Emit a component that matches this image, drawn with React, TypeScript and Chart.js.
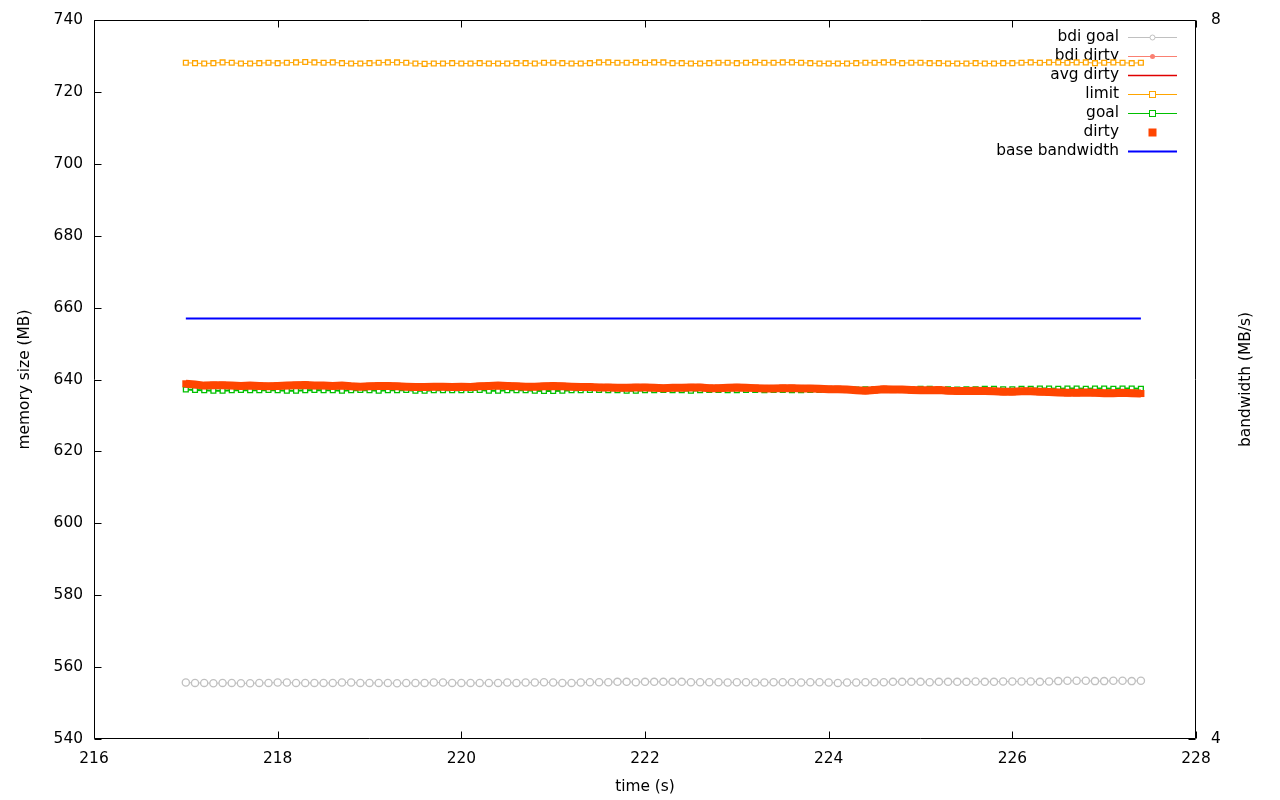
import React, { useEffect, useRef } from "react";
import { Chart, registerables } from "chart.js";

Chart.register(...registerables);

const times = [
  217.0, 217.1, 217.2, 217.3, 217.4, 217.5, 217.6, 217.7, 217.8, 217.9,
  218.0, 218.1, 218.2, 218.3, 218.4, 218.5, 218.6, 218.7, 218.8, 218.9,
  219.0, 219.1, 219.2, 219.3, 219.4, 219.5, 219.6, 219.7, 219.8, 219.9,
  220.0, 220.1, 220.2, 220.3, 220.4, 220.5, 220.6, 220.7, 220.8, 220.9,
  221.0, 221.1, 221.2, 221.3, 221.4, 221.5, 221.6, 221.7, 221.8, 221.9,
  222.0, 222.1, 222.2, 222.3, 222.4, 222.5, 222.6, 222.7, 222.8, 222.9,
  223.0, 223.1, 223.2, 223.3, 223.4, 223.5, 223.6, 223.7, 223.8, 223.9,
  224.0, 224.1, 224.2, 224.3, 224.4, 224.5, 224.6, 224.7, 224.8, 224.9,
  225.0, 225.1, 225.2, 225.3, 225.4, 225.5, 225.6, 225.7, 225.8, 225.9,
  226.0, 226.1, 226.2, 226.3, 226.4, 226.5, 226.6, 226.7, 226.8, 226.9,
  227.0, 227.1, 227.2, 227.3, 227.4,
];

const bdiGoal = [
  555.7, 555.6, 555.6, 555.5, 555.6, 555.6, 555.5, 555.5, 555.6, 555.6,
  555.7, 555.7, 555.6, 555.6, 555.6, 555.6, 555.6, 555.7, 555.7, 555.6,
  555.6, 555.6, 555.6, 555.5, 555.6, 555.6, 555.6, 555.7, 555.7, 555.6,
  555.6, 555.6, 555.6, 555.6, 555.6, 555.7, 555.6, 555.7, 555.7, 555.8,
  555.7, 555.6, 555.6, 555.7, 555.8, 555.8, 555.8, 555.9, 555.9, 555.8,
  555.9, 555.9, 555.9, 555.9, 555.9, 555.8, 555.8, 555.8, 555.8, 555.7,
  555.8, 555.8, 555.7, 555.7, 555.8, 555.8, 555.8, 555.7, 555.8, 555.8,
  555.7, 555.6, 555.7, 555.7, 555.8, 555.8, 555.8, 555.9, 555.9, 555.9,
  555.9, 555.8, 555.9, 555.9, 555.9, 555.9, 556.0, 555.9, 555.9, 556.0,
  556.0, 556.0, 556.0, 555.9, 556.0, 556.1, 556.2, 556.2, 556.2, 556.1,
  556.1, 556.2, 556.2, 556.1, 556.2,
];

const bdiDirty: number[] = [];
const avgDirty: number[] = [];

const limit = [
  728.1, 728.0, 727.9, 728.0, 728.2, 728.1, 727.9, 727.9, 728.0, 728.1,
  728.0, 728.1, 728.2, 728.3, 728.2, 728.1, 728.2, 728.0, 727.9, 727.9,
  728.0, 728.1, 728.2, 728.2, 728.1, 727.9, 727.8, 727.9, 727.9, 728.0,
  727.9, 727.9, 728.0, 727.9, 727.9, 727.9, 728.0, 728.0, 727.9, 728.1,
  728.1, 728.0, 727.9, 727.9, 728.0, 728.2, 728.2, 728.1, 728.1, 728.2,
  728.1, 728.2, 728.2, 728.0, 728.0, 727.9, 727.9, 728.0, 728.1, 728.1,
  728.0, 728.1, 728.2, 728.1, 728.1, 728.2, 728.2, 728.1, 728.0, 727.9,
  727.9, 727.9, 727.9, 728.0, 728.1, 728.1, 728.2, 728.2, 728.0, 728.1,
  728.1, 728.0, 728.0, 727.9, 727.9, 727.9, 728.0, 727.9, 727.9, 728.0,
  728.0, 728.1, 728.2, 728.1, 728.2, 728.2, 728.1, 728.2, 728.2, 728.0,
  728.1, 728.2, 728.1, 728.0, 728.1,
];

const goal = [
  637.2, 637.1, 637.0, 636.9, 636.9, 637.0, 637.1, 637.0, 637.0, 637.1,
  637.0, 636.9, 636.9, 637.0, 637.1, 637.0, 637.0, 636.9, 637.0, 637.1,
  637.0, 636.9, 637.0, 637.0, 637.1, 636.9, 636.9, 637.0, 637.0, 637.0,
  637.0, 637.1, 637.1, 636.9, 636.9, 637.0, 637.0, 637.0, 636.9, 636.8,
  636.8, 636.9, 637.0, 637.0, 637.1, 637.1, 637.0, 637.0, 636.9, 636.9,
  637.0, 637.0, 637.1, 637.0, 637.0, 636.9, 637.0, 637.1, 637.1, 637.0,
  637.0, 637.1, 637.1, 637.0, 637.1, 637.1, 637.0, 637.0, 637.1, 637.1,
  637.2, 637.2, 637.1, 637.2, 637.3, 637.3, 637.2, 637.3, 637.3, 637.3,
  637.4, 637.4, 637.3, 637.3, 637.2, 637.3, 637.3, 637.4, 637.4, 637.3,
  637.3, 637.4, 637.4, 637.5, 637.5, 637.4, 637.5, 637.5, 637.4, 637.5,
  637.5, 637.4, 637.5, 637.5, 637.4,
];

const dirty = [
  638.8, 638.6, 638.3, 638.4, 638.4, 638.3, 638.2, 638.3, 638.2, 638.1,
  638.2, 638.3, 638.4, 638.5, 638.3, 638.3, 638.2, 638.3, 638.1, 638.0,
  638.1, 638.2, 638.2, 638.1, 638.0, 637.9, 637.9, 638.0, 638.0, 637.9,
  638.0, 637.9, 638.1, 638.2, 638.3, 638.2, 638.1, 638.0, 638.0, 638.1,
  638.2, 638.1, 638.0, 637.9, 637.9, 637.8, 637.8, 637.7, 637.7, 637.8,
  637.8, 637.7, 637.6, 637.7, 637.7, 637.8, 637.8, 637.6, 637.6, 637.7,
  637.8, 637.7, 637.6, 637.5, 637.5, 637.6, 637.6, 637.5, 637.5, 637.4,
  637.3, 637.3, 637.2, 637.0, 636.9, 637.1, 637.3, 637.2, 637.2, 637.1,
  637.0, 637.0, 637.1, 636.9, 636.8, 636.8, 636.9, 636.8, 636.7, 636.6,
  636.6, 636.7, 636.7, 636.6, 636.5, 636.4, 636.3, 636.3, 636.4, 636.3,
  636.2, 636.2, 636.3, 636.2, 636.1,
];

const baseBandwidth = [
  6.34, 6.34, 6.34, 6.34, 6.34, 6.34, 6.34, 6.34, 6.34, 6.34,
  6.34, 6.34, 6.34, 6.34, 6.34, 6.34, 6.34, 6.34, 6.34, 6.34,
  6.34, 6.34, 6.34, 6.34, 6.34, 6.34, 6.34, 6.34, 6.34, 6.34,
  6.34, 6.34, 6.34, 6.34, 6.34, 6.34, 6.34, 6.34, 6.34, 6.34,
  6.34, 6.34, 6.34, 6.34, 6.34, 6.34, 6.34, 6.34, 6.34, 6.34,
  6.34, 6.34, 6.34, 6.34, 6.34, 6.34, 6.34, 6.34, 6.34, 6.34,
  6.34, 6.34, 6.34, 6.34, 6.34, 6.34, 6.34, 6.34, 6.34, 6.34,
  6.34, 6.34, 6.34, 6.34, 6.34, 6.34, 6.34, 6.34, 6.34, 6.34,
  6.34, 6.34, 6.34, 6.34, 6.34, 6.34, 6.34, 6.34, 6.34, 6.34,
  6.34, 6.34, 6.34, 6.34, 6.34, 6.34, 6.34, 6.34, 6.34, 6.34,
  6.34, 6.34, 6.34, 6.34, 6.34,
];

const xTicks = [216, 218, 220, 222, 224, 226, 228];
const yTicks = [540, 560, 580, 600, 620, 640, 660, 680, 700, 720, 740];
const y2Ticks = [4, 8];

const xTitle = "time (s)";
const yTitle = "memory size (MB)";
const y2Title = "bandwidth (MB/s)";

const FONT = "DejaVu Sans";
const FS = 15.4;

type LegendItem = {
  label: string;
  color: string;
  line: number;
  marker: "circleOpen" | "circleFilled" | "squareOpen" | "squareFilled" | "none";
};

const legendItems: LegendItem[] = [
  { label: "bdi goal", color: "#c0c0c0", line: 1, marker: "circleOpen" },
  { label: "bdi dirty", color: "#fa8072", line: 1, marker: "circleFilled" },
  { label: "avg dirty", color: "#e00000", line: 1.5, marker: "none" },
  { label: "limit", color: "#ffa500", line: 1, marker: "squareOpen" },
  { label: "goal", color: "#00c000", line: 1, marker: "squareOpen" },
  { label: "dirty", color: "#ff4500", line: 0, marker: "squareFilled" },
  { label: "base bandwidth", color: "#0000ff", line: 2, marker: "none" },
];

function pts(values: number[]) {
  return values.map((v, i) => ({ x: times[i], y: v }));
}

const gnuplotPlugin = {
  id: "gnuplotDecor",
  beforeDatasetsDraw(chart: any) {
    const { ctx } = chart;
    ctx.save();
    ctx.font = `${FS}px "${FONT}"`;
    const textRight = 1119;
    const x0 = 1128;
    const x1 = 1177;
    const xm = (x0 + x1) / 2;
    legendItems.forEach((it, i) => {
      const y = 37 + i * 19;
      ctx.fillStyle = "#000";
      ctx.textAlign = "right";
      ctx.textBaseline = "middle";
      ctx.fillText(it.label, textRight, y);
      if (it.line > 0) {
        ctx.strokeStyle = it.color;
        ctx.lineWidth = it.line;
        ctx.beginPath();
        ctx.moveTo(x0, y + 0.5);
        ctx.lineTo(x1, y + 0.5);
        ctx.stroke();
      }
      ctx.lineWidth = 1;
      ctx.strokeStyle = it.color;
      ctx.fillStyle = it.color;
      if (it.marker === "circleOpen") {
        ctx.fillStyle = "#fff";
        ctx.beginPath();
        ctx.arc(xm, y + 0.5, 2.5, 0, Math.PI * 2);
        ctx.fill();
        ctx.stroke();
      } else if (it.marker === "circleFilled") {
        ctx.beginPath();
        ctx.arc(xm, y + 0.5, 2.5, 0, Math.PI * 2);
        ctx.fill();
      } else if (it.marker === "squareOpen") {
        ctx.fillStyle = "#fff";
        ctx.fillRect(xm - 3, y - 2.5, 6, 6);
        ctx.strokeRect(xm - 3, y - 2.5, 6, 6);
      } else if (it.marker === "squareFilled") {
        ctx.fillRect(xm - 4, y - 3.5, 8, 8);
      }
    });
    ctx.restore();
  },
  afterDraw(chart: any) {
    const { ctx, chartArea: a, scales } = chart;
    const L = Math.round(a.left) + 0.5;
    const R = Math.round(a.right) - 0.5;
    const T = Math.round(a.top) + 0.5;
    const B = Math.round(a.bottom) - 0.5;
    ctx.save();
    ctx.strokeStyle = "#000";
    ctx.lineWidth = 1;
    ctx.beginPath();
    ctx.rect(L, T, R - L, B - T);
    ctx.stroke();
    const tl = 7;
    ctx.beginPath();
    for (const v of xTicks) {
      const x = Math.round(scales.x.getPixelForValue(v)) + 0.5;
      ctx.moveTo(x, B);
      ctx.lineTo(x, B - tl);
      ctx.moveTo(x, T);
      ctx.lineTo(x, T + tl);
    }
    for (const v of yTicks) {
      const y = Math.round(scales.y.getPixelForValue(v)) + 0.5;
      ctx.moveTo(L, y);
      ctx.lineTo(L + tl, y);
    }
    for (const v of y2Ticks) {
      const y = Math.round(scales.y2.getPixelForValue(v)) + 0.5;
      ctx.moveTo(R, y);
      ctx.lineTo(R - tl, y);
    }
    ctx.stroke();

    ctx.fillStyle = "#000";
    ctx.font = `${FS}px "${FONT}"`;
    ctx.textAlign = "center";
    ctx.textBaseline = "middle";
    ctx.fillText(xTitle, (a.left + a.right) / 2, 787);
    ctx.save();
    ctx.translate(25, (a.top + a.bottom) / 2);
    ctx.rotate(-Math.PI / 2);
    ctx.fillText(yTitle, 0, 0);
    ctx.restore();
    ctx.save();
    ctx.translate(1246, (a.top + a.bottom) / 2);
    ctx.rotate(-Math.PI / 2);
    ctx.fillText(y2Title, 0, 0);
    ctx.restore();
    ctx.restore();
  },
};

export default function App() {
  const ref = useRef<HTMLCanvasElement | null>(null);

  useEffect(() => {
    if (!ref.current) return;
    const tickFont = { family: FONT, size: FS };
    const chart = new Chart(ref.current, {
      type: "line",
      data: {
        datasets: [
          {
            label: "bdi goal",
            data: pts(bdiGoal),
            yAxisID: "y",
            borderColor: "#c0c0c0",
            backgroundColor: "#ffffff",
            borderWidth: 1,
            pointStyle: "circle",
            pointRadius: 3.6,
            pointBorderWidth: 1.3,
            order: 7,
          },
          {
            label: "bdi dirty",
            data: pts(bdiDirty),
            yAxisID: "y",
            borderColor: "#fa8072",
            backgroundColor: "#fa8072",
            borderWidth: 1,
            pointRadius: 2.5,
            order: 6,
          },
          {
            label: "avg dirty",
            data: pts(avgDirty),
            yAxisID: "y",
            borderColor: "#e00000",
            borderWidth: 1.5,
            pointRadius: 0,
            order: 5,
          },
          {
            label: "limit",
            data: pts(limit),
            yAxisID: "y",
            borderColor: "#ffa500",
            backgroundColor: "#ffffff",
            borderWidth: 1,
            pointStyle: "rect",
            pointRadius: 3.4,
            pointBorderWidth: 1.3,
            order: 4,
          },
          {
            label: "goal",
            data: pts(goal),
            yAxisID: "y",
            borderColor: "#00c000",
            backgroundColor: "#ffffff",
            borderWidth: 2,
            pointStyle: "rect",
            pointRadius: 3.4,
            pointBorderWidth: 1.3,
            order: 3,
          },
          {
            label: "dirty",
            data: pts(dirty),
            yAxisID: "y",
            borderColor: "#ff4500",
            backgroundColor: "#ff4500",
            borderWidth: 8,
            pointStyle: "rect",
            pointRadius: 5,
            pointBorderWidth: 0,
            order: 2,
          },
          {
            label: "base bandwidth",
            data: pts(baseBandwidth),
            yAxisID: "y2",
            borderColor: "#0000ff",
            borderWidth: 2,
            pointRadius: 0,
            order: 1,
          },
        ],
      },
      options: {
        responsive: false,
        animation: false,
        devicePixelRatio: 1,
        layout: { padding: { top: 20, left: 0, right: 0, bottom: 0 } },
        plugins: {
          legend: { display: false },
          tooltip: { enabled: false },
        },
        elements: { line: { tension: 0 } },
        scales: {
          x: {
            type: "linear",
            min: 216,
            max: 228,
            grid: { display: false, drawTicks: false },
            border: { display: false },
            afterBuildTicks: (s: any) => {
              s.ticks = xTicks.map((v) => ({ value: v }));
            },
            afterFit: (s: any) => {
              s.height = 61;
              s.paddingLeft = 0;
              s.paddingRight = 0;
            },
            ticks: {
              font: tickFont,
              color: "#000",
              padding: 11,
              maxRotation: 0,
              callback: (v: any) => String(v),
            },
          },
          y: {
            type: "linear",
            position: "left",
            min: 540,
            max: 740,
            grid: { display: false, drawTicks: false },
            border: { display: false },
            afterBuildTicks: (s: any) => {
              s.ticks = yTicks.map((v) => ({ value: v }));
            },
            afterFit: (s: any) => {
              s.width = 94;
              s.paddingTop = 0;
              s.paddingBottom = 0;
            },
            ticks: {
              font: tickFont,
              color: "#000",
              padding: 11,
              callback: (v: any) => String(v),
            },
          },
          y2: {
            type: "linear",
            position: "right",
            min: 4,
            max: 8,
            grid: { display: false, drawTicks: false },
            border: { display: false },
            afterBuildTicks: (s: any) => {
              s.ticks = y2Ticks.map((v) => ({ value: v }));
            },
            afterFit: (s: any) => {
              s.width = 84;
              s.paddingTop = 0;
              s.paddingBottom = 0;
            },
            ticks: {
              font: tickFont,
              color: "#000",
              padding: 15,
              callback: (v: any) => String(v),
            },
          },
        },
      },
      plugins: [gnuplotPlugin],
    } as any);
    return () => chart.destroy();
  }, []);

  return (
    <div style={{ position: "absolute", left: 0, top: 0, width: 1280, height: 800, background: "#fff" }}>
      <canvas ref={ref} width={1280} height={800} style={{ width: 1280, height: 800 }} />
    </div>
  );
}
